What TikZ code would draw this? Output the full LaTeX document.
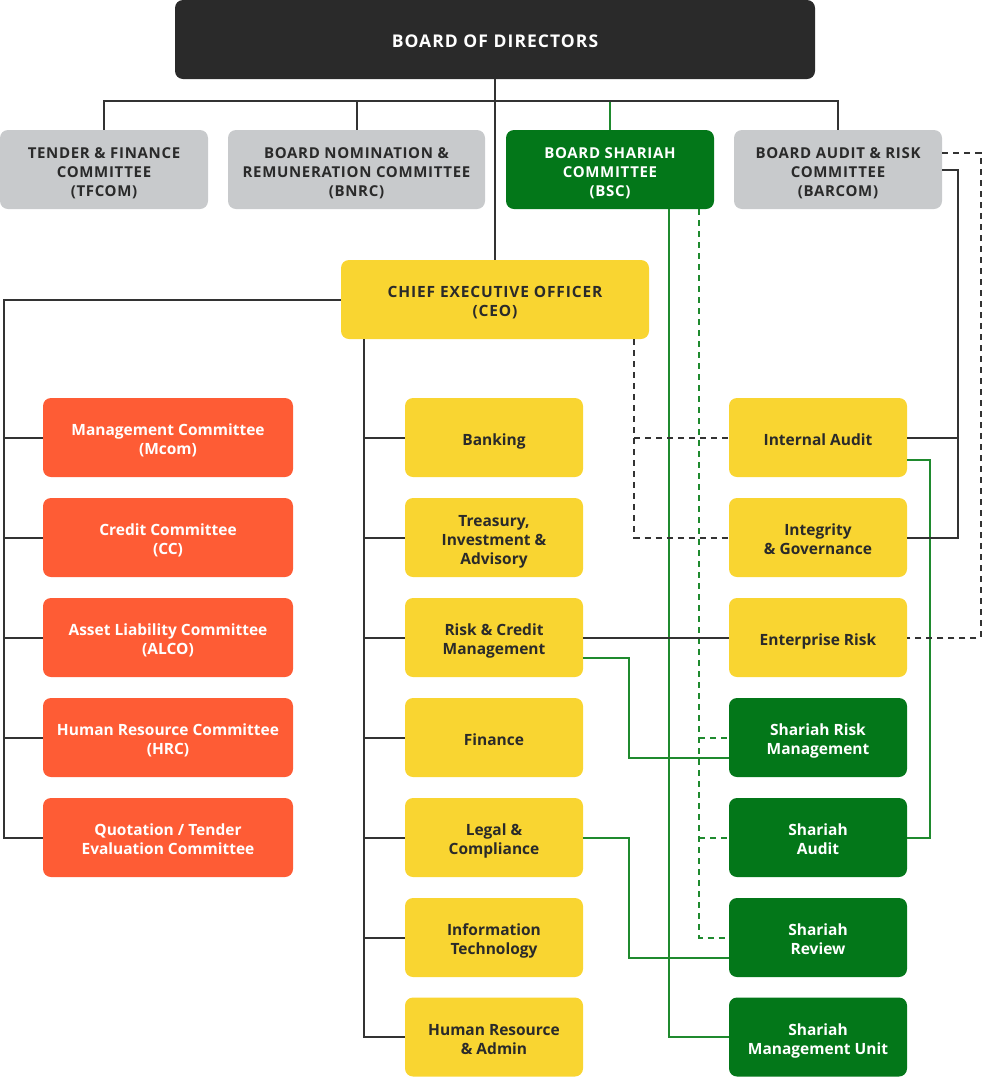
\documentclass[tikz,border=0pt]{standalone}
\usepackage{fontspec}
\setmainfont{Open Sans}
\definecolor{bodc}{HTML}{2A2A2A}
\definecolor{grayc}{HTML}{C8CACC}
\definecolor{greenc}{HTML}{037719}
\definecolor{yellowc}{HTML}{F9D531}
\definecolor{orangec}{HTML}{FE5C35}
\definecolor{linec}{HTML}{333333}
\definecolor{glinec}{HTML}{1F8A2E}
\definecolor{txtc}{HTML}{2A2A2A}
\newcommand\tsx{\rule{0pt}{19pt}}
\newcommand\bsx{\rule[-4pt]{0pt}{0pt}}
\begin{document}
\begin{tikzpicture}[x=1pt,y=-1pt,
  box/.style={rectangle,rounded corners=8pt,align=center,inner sep=0pt,
    font=\fontsize{15.5}{19}\selectfont\bfseries},
  capsfont/.style={font=\fontsize{15}{19}\selectfont\bfseries\addfontfeatures{LetterSpace=4.5}},
  bodbox/.style={box,fill=bodc,text=white,minimum width=640pt,minimum height=79pt,
    font=\fontsize{17.5}{20}\selectfont\bfseries\addfontfeatures{LetterSpace=6}},
  graybox/.style={box,capsfont,fill=grayc,text=txtc,minimum width=208pt,minimum height=79pt},
  greenbig/.style={box,capsfont,fill=greenc,text=white,minimum width=208pt,minimum height=79pt},
  ceobox/.style={box,fill=yellowc,text=txtc,minimum width=308pt,minimum height=79pt,
    font=\fontsize{15.5}{19}\selectfont\bfseries\addfontfeatures{LetterSpace=5.5}},
  orbox/.style={box,fill=orangec,text=white,minimum width=250pt,minimum height=79pt},
  ybox/.style={box,fill=yellowc,text=txtc,minimum width=178pt,minimum height=79pt},
  gbox/.style={box,fill=greenc,text=white,minimum width=178pt,minimum height=79pt},
  ln/.style={draw=linec,line width=2pt},
  dln/.style={draw=linec,line width=2pt,dash pattern=on 6pt off 5pt},
  gln/.style={draw=glinec,line width=2pt},
  gdln/.style={draw=glinec,line width=2pt,dash pattern=on 6pt off 5pt}]
\useasboundingbox (0,0) rectangle (984,1077);
% top
\node[bodbox] (bod) at (495,39.5) {\tsx BOARD OF DIRECTORS\bsx};
\node[graybox] (tf) at (104,169.5) {\tsx TENDER \& FINANCE\\COMMITTEE\\(TFCOM)\bsx};
\node[graybox,minimum width=257pt] (bnrc) at (356.5,169.5) {\tsx BOARD NOMINATION \&\\REMUNERATION COMMITTEE\\(BNRC)\bsx};
\node[greenbig] (bsc) at (610,169.5) {\tsx BOARD SHARIAH\\COMMITTEE\\(BSC)\bsx};
\node[graybox] (barcom) at (838,169.5) {\tsx BOARD AUDIT \& RISK\\COMMITTEE\\(BARCOM)\bsx};
\node[ceobox] (ceo) at (495,299.5) {\tsx CHIEF EXECUTIVE OFFICER\\(CEO)\bsx};
% left committees
\node[orbox] (m1) at (168,437.5) {\tsx Management Committee\\(Mcom)\bsx};
\node[orbox] (m2) at (168,537.5) {\tsx Credit Committee\\(CC)\bsx};
\node[orbox] (m3) at (168,637.5) {\tsx Asset Liability Committee\\(ALCO)\bsx};
\node[orbox] (m4) at (168,737.5) {\tsx Human Resource Committee\\(HRC)\bsx};
\node[orbox] (m5) at (168,837.5) {\tsx Quotation / Tender\\Evaluation Committee\bsx};
% middle
\node[ybox] (y1) at (494,437.5) {\tsx Banking\bsx};
\node[ybox] (y2) at (494,537.5) {\tsx Treasury,\\Investment \&\\Advisory\bsx};
\node[ybox] (y3) at (494,637.5) {\tsx Risk \& Credit\\Management\bsx};
\node[ybox] (y4) at (494,737.5) {\tsx Finance\bsx};
\node[ybox] (y5) at (494,837.5) {\tsx Legal \&\\Compliance\bsx};
\node[ybox] (y6) at (494,937.5) {\tsx Information\\Technology\bsx};
\node[ybox] (y7) at (494,1037) {\tsx Human Resource\\\& Admin\bsx};
% right
\node[ybox] (ia) at (818,437.5) {\tsx Internal Audit\bsx};
\node[ybox] (ig) at (818,537.5) {\tsx Integrity\\\& Governance\bsx};
\node[ybox] (er) at (818,637.5) {\tsx Enterprise Risk\bsx};
\node[gbox] (srm) at (818,737.5) {\tsx Shariah Risk\\Management\bsx};
\node[gbox] (sa) at (818,837.5) {\tsx Shariah\\Audit\bsx};
\node[gbox] (sr) at (818,937.5) {\tsx Shariah\\Review\bsx};
\node[gbox] (smu) at (818,1037) {\tsx Shariah\\Management Unit\bsx};
% bus coordinates
\coordinate (bus) at (0,101);
\coordinate (lbus) at (4,0);
\coordinate (cbus) at (364,0);
\coordinate (dbus) at (634,0);
\coordinate (gbus) at (629,0);
\coordinate (gs) at (669,0);
\coordinate (gd) at (699,0);
\coordinate (gr) at (930,0);
\coordinate (rbus) at (958,0);
\coordinate (rdbus) at (981,0);
\path ([yshift=-20pt]y3.east) coordinate (rcout);
\path ([yshift=-20pt]srm.west) coordinate (srmin);
\path ([yshift=-20pt]sr.west) coordinate (srin);
\path ([yshift=-22.5pt]ia.east) coordinate (iaout);
\path ([yshift=16.5pt]barcom.east) coordinate (barout);
% green connectors
\draw[gln] (bsc.north) -- (bsc.north |- bus);
\draw[gln] (bsc.south -| gs) |- (smu.west);
\draw[gdln] (bsc.south -| gd) |- (sr.west);
\draw[gdln] (gd |- srm.west) -- (srm.west);
\draw[gdln] (gd |- sa.west) -- (sa.west);
\draw[gln] (rcout) -- (rcout -| gbus) -- (gbus |- srmin) -- (srmin);
\draw[gln] (y5.east) -- (y5.east -| gbus) -- (gbus |- srin) -- (srin);
\draw[gln] (iaout) -| (gr |- sa.east) -- (sa.east);
% dark connectors
\draw[ln] (tf.north) -- (tf.north |- bus) -| (barcom.north);
\draw[ln] (bnrc.north) -- (bnrc.north |- bus);
\draw[ln] (bod.south) -- (ceo.north);
\draw[ln] (ceo.west) -| (lbus |- m5.west) -- (m5.west);
\foreach \n in {m1,m2,m3,m4} \draw[ln] (\n.west) -- (\n.west -| lbus);
\draw[ln] (ceo.south -| cbus) |- (y7.west);
\foreach \n in {y1,y2,y3,y4,y5,y6} \draw[ln] (\n.west) -- (\n.west -| cbus);
\draw[ln] (y3.east) -- (er.west);
\draw[dln] (ceo.south -| dbus) |- (ig.west);
\draw[dln] (dbus |- ia.west) -- (ia.west);
\draw[ln] (barcom.east) -| (rbus |- ig.east) -- (ig.east);
\draw[ln] (ia.east) -- (ia.east -| rbus);
\draw[dln] (barout) -| (rdbus |- er.east) -- (er.east);
\end{tikzpicture}
\end{document}
